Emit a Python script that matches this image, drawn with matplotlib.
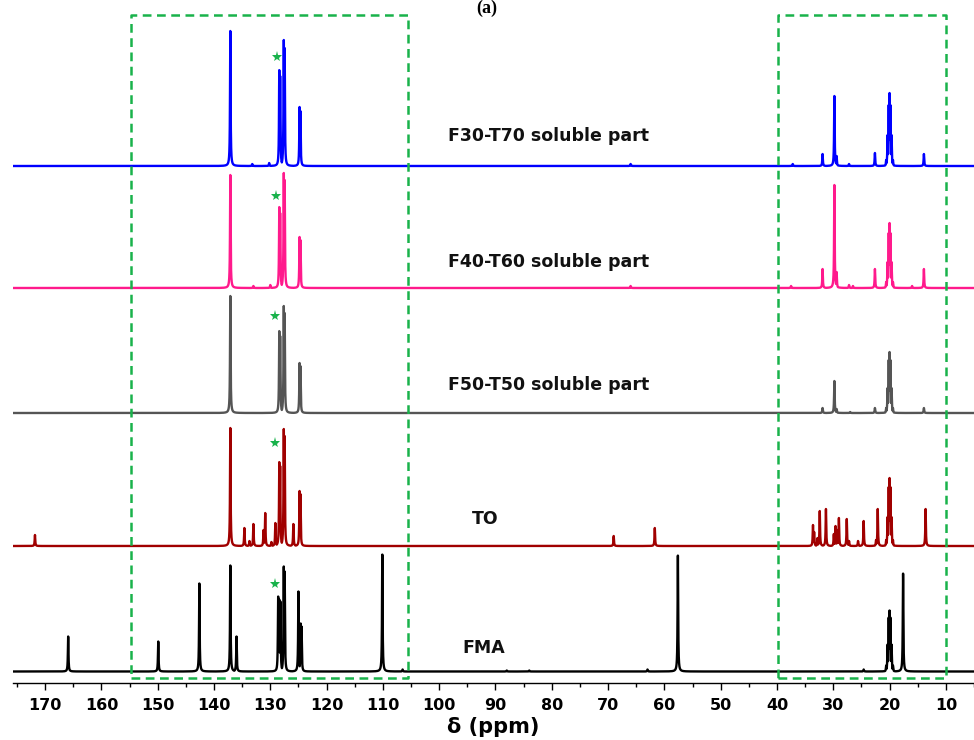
import numpy as np
import matplotlib
matplotlib.use("Agg")
import matplotlib.pyplot as plt
from matplotlib.ticker import MultipleLocator

# ---------------- data (peak lists) ----------------
# heights are in the stacked-plot vertical units (same for every trace)
names = ["F30-T70 soluble part", "F40-T60 soluble part", "F50-T50 soluble part", "TO", "FMA"]
colors = ["#0000ff", "#ff1a8c", "#555555", "#a00000", "#000000"]
baselines = [517, 395, 270, 137, 11.5]

f30_ppm = [137.1, 133.2, 130.2, 128.4, 128.25, 127.6, 127.45, 124.8, 124.65, 66.0,
           37.2, 31.9, 29.8, 29.4, 27.2, 22.6, 20.6, 20.35, 20.15, 20.0, 19.85, 19.65, 19.4, 13.9]
f30_h = [135, 2, 3, 96, 90, 126, 118, 59, 55, 2,
         2, 12, 70, 10, 2, 13, 6, 31, 61, 73, 61, 31, 6, 12]

f40_ppm = [137.1, 133.0, 130.0, 128.4, 128.25, 127.6, 127.45, 124.8, 124.65, 66.0,
           37.5, 31.9, 29.8, 29.4, 27.2, 26.5, 22.6, 20.6, 20.35, 20.15, 20.0, 19.85, 19.65, 19.4, 16.0, 13.9]
f40_h = [113, 2, 3, 81, 75, 115, 108, 51, 48, 2,
         2, 19, 103, 16, 3, 2, 19, 6, 26, 55, 65, 55, 26, 6, 2, 19]

f50_ppm = [137.1, 128.4, 128.25, 127.6, 127.45, 124.8, 124.65,
           31.9, 29.8, 29.4, 27.0, 22.6, 20.6, 20.35, 20.15, 20.0, 19.85, 19.65, 19.4, 13.9]
f50_h = [117, 82, 77, 107, 100, 50, 47,
         5, 32, 4, 1, 5, 5, 25, 53, 61, 53, 25, 5, 5]

to_ppm = [171.8, 137.1, 134.6, 133.7, 133.0, 131.2, 130.9, 129.8, 129.1, 128.4, 128.25,
          127.6, 127.45, 125.9, 124.8, 124.65, 69.0, 61.7,
          33.6, 33.4, 32.8, 32.4, 31.3, 29.9, 29.6, 29.3, 29.0, 27.6, 27.2, 25.6, 24.6,
          22.4, 22.1, 20.6, 20.35, 20.15, 20.0, 19.85, 19.65, 19.4, 13.6]
to_h = [11, 118, 18, 5, 22, 16, 33, 4, 23, 84, 80,
        117, 110, 22, 55, 52, 10, 18,
        21, 14, 8, 35, 37, 12, 20, 16, 28, 27, 5, 5, 25,
        6, 37, 6, 29, 59, 68, 59, 29, 6, 37]

fma_ppm = [165.9, 149.9, 142.6, 137.1, 136.0, 128.6, 128.4, 128.2, 127.6, 127.45,
           125.0, 124.6, 124.45, 110.1, 106.5, 88.0, 84.0, 63.0, 57.6, 24.6,
           20.6, 20.35, 20.15, 20.0, 19.85, 19.65, 19.4, 17.6]
fma_h = [35, 30, 88, 106, 35, 75, 72, 70, 105, 100,
         80, 48, 45, 117, 2, 1, 1, 2, 116, 2,
         6, 27, 54, 61, 54, 27, 6, 98]

peak_ppm = [f30_ppm, f40_ppm, f50_ppm, to_ppm, fma_ppm]
peak_h = [f30_h, f40_h, f50_h, to_h, fma_h]

# asterisk marks (ppm, height above own baseline)
star_ppm = [128.8, 129.0, 129.1, 129.1, 129.1]
star_h = [109, 92, 97, 103, 88]

# label positions (ppm, height above own baseline)
label_ppm = [98.4, 98.4, 98.4, 94.2, 95.9]
label_h = [30, 26, 28, 27, 23.5]

box_ranges = [(154.7, 105.5), (39.8, 10.0)]
xticks = list(range(170, 9, -10))

# ---------------- figure ----------------
W, H = 974, 740
fig = plt.figure(figsize=(W / 100, H / 100), dpi=100)
ax = fig.add_axes([13 / W, 57 / H, (W - 13) / W, 683 / H])
ax.set_xlim(175.7, 5.0)
ax.set_ylim(0, 683)

x = np.linspace(175.7, 5.0, 40000)
hw = 0.06
for name, col, base, pp, hh in zip(names, colors, baselines, peak_ppm, peak_h):
    y = np.zeros_like(x)
    for p, h in zip(pp, hh):
        y = np.maximum(y, h * hw ** 2 / ((x - p) ** 2 + hw ** 2))
    ax.plot(x, base + y, color=col, lw=1.7, solid_joinstyle="round")

for sp, sh, base in zip(star_ppm, star_h, baselines):
    ax.plot([sp], [base + sh], marker="*", color="#19b24b", markersize=8, markeredgewidth=0)

for name, lp, lh, base in zip(names, label_ppm, label_h, baselines):
    ax.text(lp, base + lh, name, ha="left", va="center", fontsize=12.5,
            fontweight="bold", color="#111111", family="DejaVu Sans")

for (a, b) in box_ranges:
    ax.plot([a, b, b, a, a], [5, 5, 668, 668, 5], color="#19b24b", lw=1.8,
            linestyle=(0, (3.5, 2.2)), clip_on=False)

for s in ["left", "right", "top"]:
    ax.spines[s].set_visible(False)
ax.spines["bottom"].set_linewidth(1.0)
ax.set_yticks([])
ax.set_xticks(xticks)
ax.xaxis.set_minor_locator(MultipleLocator(5))
ax.tick_params(axis="x", which="major", direction="out", length=5, width=1, pad=6)
ax.tick_params(axis="x", which="minor", direction="out", length=3, width=1)
for t in ax.get_xticklabels():
    t.set_fontweight("bold")
    t.set_fontsize(11.5)
ax.set_xlabel("δ (ppm)", fontsize=15, fontweight="bold", labelpad=3)

fig.text(0.5, 1.0, "(a)", ha="center", va="top", fontsize=13,
         fontweight="bold", family="Liberation Serif")

fig.savefig("out.png", dpi=100)
